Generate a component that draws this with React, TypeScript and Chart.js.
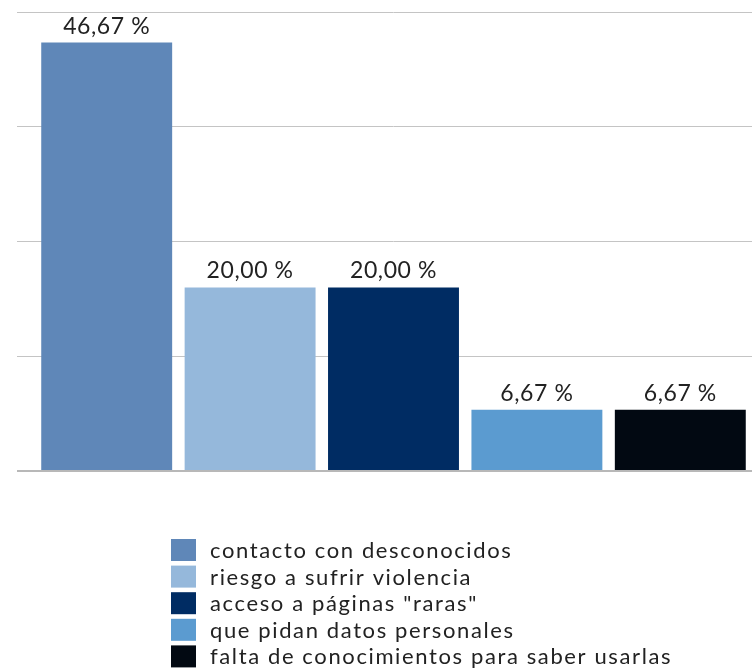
import React, { useEffect, useRef } from "react";
import { Chart, registerables } from "chart.js";

Chart.register(...registerables);

const categories = [
  "contacto con desconocidos",
  "riesgo a sufrir violencia",
  'acceso a páginas "raras"',
  "que pidan datos personales",
  "falta de conocimientos para saber usarlas",
];
const values = [46.67, 20.0, 20.0, 6.67, 6.67];
const colors = ["#5f87b8", "#95b8db", "#002c63", "#5b9bd0", "#020912"];
const yTicks = [0, 12.5, 25, 37.5, 50];

const FONT = "Lato";

const valueLabelPlugin = {
  id: "valueLabels",
  afterDatasetsDraw(chart: any) {
    const ctx = chart.ctx;
    const meta = chart.getDatasetMeta(0);
    ctx.save();
    ctx.font = `400 23px ${FONT}`;
    try {
      (ctx as any).letterSpacing = "0.6px";
    } catch (e) {}
    ctx.fillStyle = "#222222";
    ctx.textAlign = "center";
    ctx.textBaseline = "alphabetic";
    meta.data.forEach((bar: any, i: number) => {
      const txt = values[i].toFixed(2).replace(".", ",") + " %";
      ctx.fillText(txt, bar.x, bar.y - 9);
    });
    ctx.restore();
  },
};

const legendPlugin = {
  id: "customLegend",
  afterDraw(chart: any) {
    const ctx = chart.ctx;
    const left = 171;
    const top = 539;
    const pitch = 26.6;
    const bw = 25;
    const bh = 22;
    ctx.save();
    ctx.font = `400 22px ${FONT}`;
    try {
      (ctx as any).letterSpacing = "1.62px";
    } catch (e) {}
    ctx.textAlign = "left";
    ctx.textBaseline = "middle";
    categories.forEach((c, i) => {
      const y = top + i * pitch;
      ctx.fillStyle = colors[i];
      ctx.fillRect(left, y, bw, bh);
      ctx.fillStyle = "#222222";
      ctx.fillText(c, left + 39, y + bh / 2 + 1);
    });
    ctx.restore();
  },
};

export default function App() {
  const ref = useRef<HTMLCanvasElement>(null);
  useEffect(() => {
    if (!ref.current) return;
    const chart = new Chart(ref.current, {
      type: "bar",
      data: {
        labels: categories,
        datasets: [
          {
            data: values,
            backgroundColor: colors,
            borderWidth: 0,
            barPercentage: 0.913,
            categoryPercentage: 1,
          },
        ],
      },
      options: {
        animation: false,
        responsive: false,
        maintainAspectRatio: false,
        layout: { padding: { top: 12, left: 17, right: 1, bottom: 200 } },
        plugins: {
          legend: { display: false },
          tooltip: { enabled: false },
        },
        scales: {
          x: {
            ticks: { display: false },
            grid: { display: false, drawTicks: false },
            border: { display: false },
          },
          y: {
            min: 0,
            max: 50,
            afterBuildTicks: (axis: any) => {
              axis.ticks = yTicks.map((v) => ({ value: v }));
            },
            ticks: { display: false },
            grid: {
              color: (c: any) => (c.tick && c.tick.value === 0 ? "#b8b8b8" : "#c4c4c4"),
              lineWidth: (c: any) => (c.tick && c.tick.value === 0 ? 2 : 1),
              tickLength: 18,
              drawTicks: true,
            },
            border: { display: false },
          },
        },
      },
      plugins: [valueLabelPlugin, legendPlugin],
    });
    return () => chart.destroy();
  }, []);
  return (
    <div style={{ position: "fixed", left: 0, top: 0, width: 753, height: 671, background: "#fff" }}>
      <canvas ref={ref} width={753} height={671} style={{ width: 753, height: 671 }} />
    </div>
  );
}
